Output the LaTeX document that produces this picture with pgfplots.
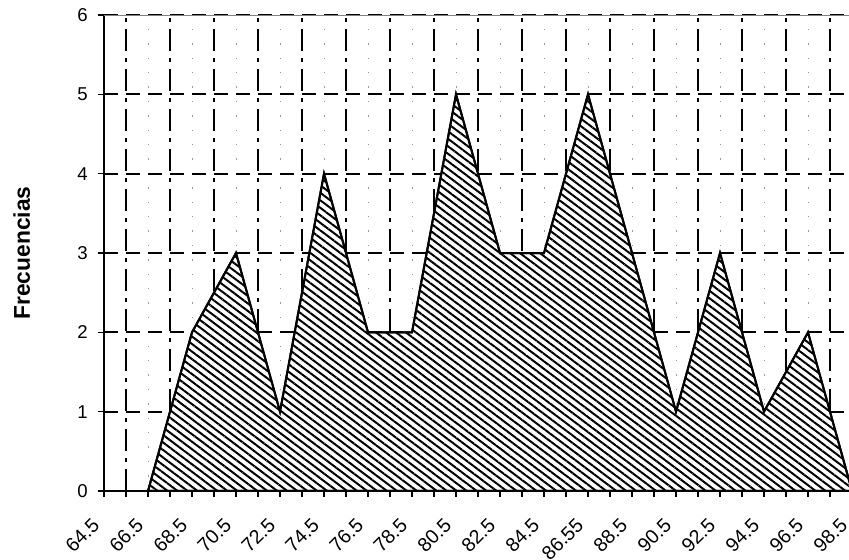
\documentclass[border=0pt]{standalone}
\usepackage{fontspec}
\setmainfont{Liberation Sans}
\usepackage{pgfplots}
\pgfplotsset{compat=1.18}
\usetikzlibrary{patterns.meta}
\begin{document}
\begin{tikzpicture}
\begin{axis}[
  scale only axis,
  width=374pt, height=238pt,
  xmin=0, xmax=17, ymin=0, ymax=6,
  clip=true,
  separate axis lines,
  axis x line*=bottom, axis y line*=left,
  axis line style={-, line width=1pt, black},
  xtick={0,...,17},
  minor xtick={0.5,1.5,...,16.5},
  xticklabels={64.5,66.5,68.5,70.5,72.5,74.5,76.5,78.5,80.5,82.5,84.5,86.55,88.5,90.5,92.5,94.5,96.5,98.5},
  ytick={0,...,6},
  tick align=outside,
  major tick length=3pt, minor tick length=3pt,
  tick style={black, line width=0.8pt},
  xmajorgrids, xminorgrids, ymajorgrids,
  major x grid style={black!40, line width=0.5pt, dash pattern=on 0.7pt off 6.5pt},
  minor x grid style={black, line width=0.7pt, dash pattern=on 11pt off 3.5pt on 2pt off 3.5pt},
  major y grid style={black, line width=0.9pt, dash pattern=on 7pt off 4pt},
  /pgf/number format/assume math mode=true,
  yticklabel style={inner sep=0pt, anchor=east, font=\fontsize{9.3}{11}\selectfont},
  yticklabel shift=5pt,
  xticklabel style={inner sep=0pt, xshift=-4pt, yshift=-12.3pt, rotate=45, anchor=east, font=\fontsize{9.8}{11}\selectfont},
  ylabel={\textbf{Frecuencias}},
  ylabel style={at={(axis description cs:-0.110,0.5)}, anchor=center, font=\fontsize{11.4}{13}\selectfont},
]
\draw[black!50, line width=0.4pt] (rel axis cs:0,1) -- (rel axis cs:1,1);
\addplot[draw=black, line width=1pt, fill=white,
  postaction={pattern={Lines[angle=-37, distance=3pt, line width=1pt]}}]
  coordinates {(1,0) (2,2) (3,3) (4,1) (5,4) (6,2) (7,2) (8,5) (9,3) (10,3) (11,5) (12,3) (13,1) (14,3) (15,1) (16,2) (17,0)} \closedcycle;
\end{axis}
\pgfresetboundingbox
\path (current axis.south west) ++(-52pt,-34.5pt) rectangle ++(424.5pt,280pt);
\end{tikzpicture}
\end{document}
